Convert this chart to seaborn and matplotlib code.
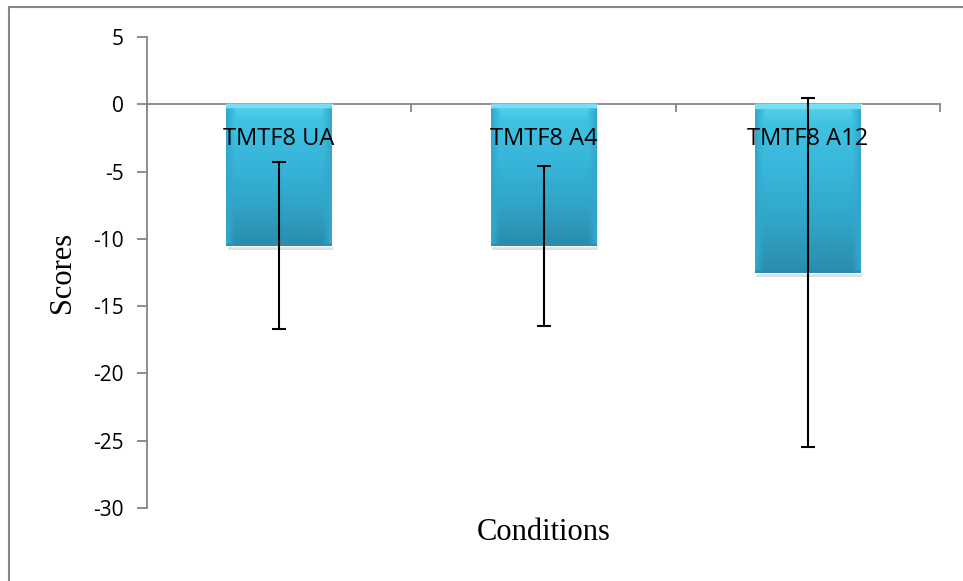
import numpy as np
import pandas as pd
import seaborn as sns
import matplotlib.pyplot as plt
import matplotlib.patheffects as pe
from matplotlib.colors import LinearSegmentedColormap
from matplotlib.lines import Line2D

conditions = ["TMTF8 UA", "TMTF8 A4", "TMTF8 A12"]
mean_scores = [-10.5, -10.5, -12.5]
score_errors = [6.2, 5.95, 12.95]
y_ticks = [5, 0, -5, -10, -15, -20, -25, -30]

sns.set_style("white")
plt.rcParams["font.family"] = ["Open Sans", "DejaVu Sans"]

df = pd.DataFrame({"condition": conditions, "score": mean_scores})

fig = plt.figure(figsize=(9.63, 5.81), dpi=100)
ax = fig.add_axes([147 / 963, 1 - 508 / 581, 793 / 963, 471 / 581])

sns.barplot(data=df, x="condition", y="score", color="#38b8da", width=0.4,
            errorbar=None, ax=ax, zorder=1)

# bevel-like gradient on each bar
grad_cmap = LinearSegmentedColormap.from_list(
    "bar", ["#2a8cac", "#31a4c8", "#38b5da", "#3fc2e2", "#80e8fa"])
gy = np.linspace(0, 1, 200)[:, None]
gx = np.linspace(0, 1, 60)[None, :]
edge = np.clip(np.minimum(gx, 1 - gx) / 0.08, 0, 1)
grad = gy * 0.85 * edge + (1 - edge) * 0.3
grad[-6:, :] = np.maximum(grad[-6:, :], 0.95)
grad[:3, :] = np.minimum(grad[:3, :], 0.05)
for p in ax.patches:
    x0, y0 = p.get_x(), p.get_y()
    w, h = p.get_width(), p.get_height()
    p.set_path_effects([pe.SimplePatchShadow(offset=(1, -3), alpha=0.15),
                        pe.Normal()])
    im = ax.imshow(grad, cmap=grad_cmap, vmin=0, vmax=1, aspect="auto",
                   origin="lower", extent=(x0, x0 + w, y0 + h, y0),
                   zorder=1.5, interpolation="bilinear")
    im.set_clip_path(p)

ax.errorbar(x=np.arange(len(conditions)), y=mean_scores, yerr=score_errors,
            fmt="none", ecolor="black", elinewidth=1.5, capsize=5,
            capthick=1.5, zorder=4)

ax.set_axisbelow(False)
ax.set_xlim(-0.5, 2.5)
ax.set_ylim(-30, 5)
ax.set_yticks(y_ticks)
ax.set_yticklabels([str(t) for t in y_ticks])

gray = "#868686"
for s in ["top", "right"]:
    ax.spines[s].set_visible(False)
ax.spines["left"].set_color(gray)
ax.spines["left"].set_linewidth(1.3)
ax.spines["bottom"].set_position(("data", 0))
ax.spines["bottom"].set_color(gray)
ax.spines["bottom"].set_linewidth(1.3)
ax.spines["bottom"].set_zorder(0.5)

ax.set_xticks([-0.5, 0.5, 1.5, 2.5], minor=True)
ax.tick_params(axis="x", which="minor", direction="out", length=6,
               width=1.3, color=gray, bottom=True)
ax.tick_params(axis="x", which="major", length=0, pad=16, labelsize=17,
               bottom=True, labelcolor="black")
ax.tick_params(axis="y", direction="out", length=7, width=1.3, color=gray,
               pad=10, labelsize=15, left=True, labelcolor="black")

ax.set_xlabel("Conditions", fontsize=22, family="Liberation Serif",
              color="black")
ax.xaxis.label.set_va("center")
ax.xaxis.set_label_coords(0.5, -0.053)
ax.set_ylabel("Scores", fontsize=22, family="Liberation Serif",
              color="black")
ax.yaxis.label.set_va("center")
ax.yaxis.set_label_coords(-0.107, 0.5)

# outer chart frame
fig.add_artist(Line2D([9 / 963, 9 / 963], [0, 1 - 7 / 581],
                      transform=fig.transFigure, color=gray, lw=1.5))
fig.add_artist(Line2D([9 / 963, 1], [1 - 7 / 581, 1 - 7 / 581],
                      transform=fig.transFigure, color=gray, lw=1.5))

fig.savefig("out.png", dpi=100)
